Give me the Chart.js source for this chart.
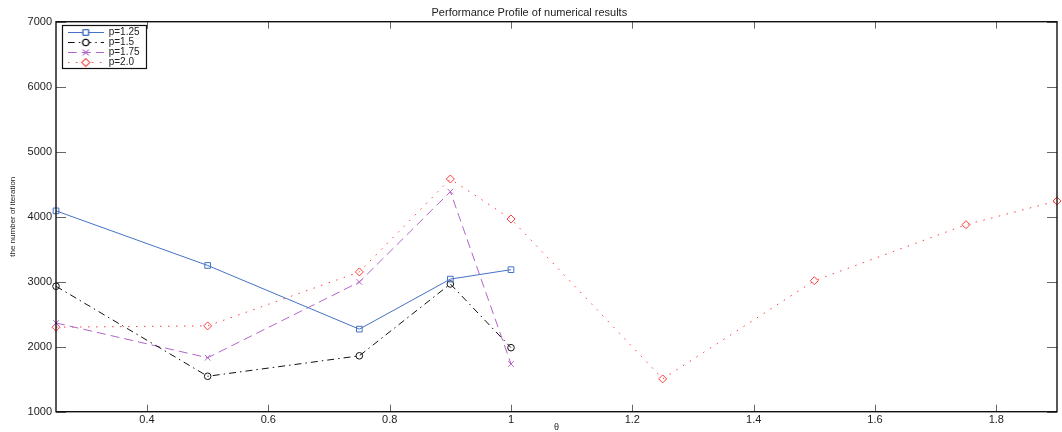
<!DOCTYPE html>
<html>
<head>
<meta charset="utf-8">
<script src="https://cdn.jsdelivr.net/npm/chart.js@4/dist/chart.umd.min.js"></script>
<style>
  html, body { margin: 0; padding: 0; background: #fff; }
  canvas { display: block; }
</style>
</head>
<body>
<canvas id="perfChart" width="1062" height="432"></canvas>
<script>
// theta values (x) and iteration counts per p
const thetaShort = [0.25, 0.5, 0.75, 0.9, 1];
const thetaLong = [0.25, 0.5, 0.75, 0.9, 1, 1.25, 1.5, 1.75, 1.9];
const iterP125 = [4090, 3250, 2270, 3040, 3185];
const iterP15 = [2930, 1545, 1860, 2965, 1985];
const iterP175 = [2365, 1830, 2995, 4385, 1735];
const iterP20 = [2300, 2320, 3150, 4580, 3965, 1505, 3015, 3877, 4242];
const seriesNames = ["p=1.25", "p=1.5", "p=1.75", "p=2.0"];
const xTicks = [0.4, 0.6, 0.8, 1, 1.2, 1.4, 1.6, 1.8];
const yTicks = [1000, 2000, 3000, 4000, 5000, 6000, 7000];

const FONT = "'Liberation Sans', Arial, Helvetica, sans-serif";
const colors = ["#4472C4", "#111111", "#B265C9", "#FF3B3B"];
const dashes = [[], [7, 4, 1.5, 4], [9, 5], [1.5, 6.5]];
const markers = ["rect", "circle", "crossRot", "rectRot"];
const markerSize = [4, 3.3, 4, 4];

const toPoints = (xs, ys) => ys.map((v, i) => ({x: xs[i], y: v}));

// little line+marker samples for the legend
function legendSample(i) {
  const c = document.createElement("canvas");
  c.width = 36; c.height = 10;
  const g = c.getContext("2d");
  g.strokeStyle = colors[i];
  g.lineWidth = 1;
  g.setLineDash(dashes[i]);
  g.beginPath();
  g.moveTo(0, 5.5);
  g.lineTo(36, 5.5);
  g.stroke();
  g.setLineDash([]);
  g.fillStyle = "#fff";
  Chart.helpers.drawPoint(g, {pointStyle: markers[i], radius: markerSize[i], rotation: 0, borderWidth: 1}, 18, 5.5);
  g.stroke();
  return c;
}
const samples = [0, 1, 2, 3].map(legendSample);

const frame = {
  id: "frame",
  afterLayout(chart) {
    const a = chart.chartArea;
    chart.legend.left = a.left + 11.7;
    chart.legend.top = a.top + 5.3;
  },
  afterDatasetsDraw(chart) {
    const {ctx, chartArea: a, scales: {x, y}} = chart;
    ctx.save();
    ctx.strokeStyle = "#666";
    ctx.lineWidth = 1;
    ctx.beginPath();
    xTicks.forEach(v => {
      const px = Math.round(x.getPixelForValue(v)) + 0.5;
      ctx.moveTo(px, a.bottom); ctx.lineTo(px, a.bottom - 7);
      ctx.moveTo(px, a.top); ctx.lineTo(px, a.top + 7);
    });
    yTicks.forEach(v => {
      const py = Math.round(y.getPixelForValue(v)) + 0.5;
      ctx.moveTo(a.left, py); ctx.lineTo(a.left + 10, py);
      ctx.moveTo(a.right, py); ctx.lineTo(a.right - 10, py);
    });
    ctx.stroke();
    ctx.strokeStyle = "#111";
    ctx.lineWidth = 1.4;
    ctx.strokeRect(a.left, a.top, a.right - a.left, a.bottom - a.top);

    // box around the legend
    const hb = chart.legend.legendHitBoxes;
    if (hb && hb.length) {
      const l = Math.min(...hb.map(b => b.left)) - 6;
      const t = Math.min(...hb.map(b => b.top)) - 2;
      const r = Math.max(...hb.map(b => b.left + b.width)) + 6;
      const btm = Math.max(...hb.map(b => b.top + b.height)) + 1;
      ctx.lineWidth = 1.2;
      ctx.strokeRect(Math.round(l) + 0.5, Math.round(t) + 0.5, Math.round(r - l), Math.round(btm - t));
    }
    ctx.restore();
  }
};

const datasets = [
  toPoints(thetaShort, iterP125),
  toPoints(thetaShort, iterP15),
  toPoints(thetaShort, iterP175),
  toPoints(thetaLong, iterP20)
].map((pts, i) => ({
  label: seriesNames[i],
  data: pts,
  borderColor: colors[i],
  backgroundColor: colors[i],
  borderWidth: 1,
  borderDash: dashes[i],
  pointStyle: markers[i],
  pointRadius: markerSize[i],
  pointBorderWidth: 1,
  pointBorderColor: colors[i],
  pointBackgroundColor: "rgba(255,255,255,0)",
  tension: 0,
  clip: false
}));

new Chart(document.getElementById("perfChart"), {
  type: "line",
  data: {datasets: datasets},
  plugins: [frame],
  options: {
    responsive: false,
    animation: false,
    devicePixelRatio: 1,
    layout: {padding: {left: 0, right: 3.3, top: 0, bottom: 0}},
    plugins: {
      title: {
        display: true,
        text: "Performance Profile of numerical results",
        color: "#222",
        font: {family: FONT, size: 11, weight: "normal", lineHeight: 1.1},
        padding: {top: 7, bottom: 2.6}
      },
      legend: {
        position: "chartArea",
        align: "start",
        labels: {
          usePointStyle: true,
          pointStyleWidth: 36,
          padding: 0,
          color: "#222",
          font: {family: FONT, size: 10},
          generateLabels(chart) {
            const items = Chart.defaults.plugins.legend.labels.generateLabels(chart);
            items.forEach((it, i) => { it.pointStyle = samples[i]; });
            return items;
          }
        }
      },
      tooltip: {enabled: false}
    },
    scales: {
      x: {
        type: "linear",
        min: 0.25,
        max: 1.9,
        afterBuildTicks: s => { s.ticks = xTicks.map(v => ({value: v})); },
        afterFit: s => { s.height = 20.3; },
        grid: {display: false, drawTicks: false},
        border: {display: false},
        ticks: {
          padding: 2,
          color: "#222",
          font: {family: FONT, size: 11},
          callback: v => String(v)
        },
        title: {
          display: true,
          text: "θ",
          color: "#222",
          font: {family: FONT, size: 9, lineHeight: 1},
          padding: {top: 0, bottom: -0.5}
        }
      },
      y: {
        type: "linear",
        min: 1000,
        max: 7000,
        afterBuildTicks: s => { s.ticks = yTicks.map(v => ({value: v})); },
        afterFit: s => { s.width = 56; },
        grid: {display: false, drawTicks: false},
        border: {display: false},
        ticks: {
          padding: 4,
          color: "#222",
          font: {family: FONT, size: 11},
          callback: v => String(v)
        },
        title: {
          display: true,
          text: "the number of iteration",
          color: "#222",
          font: {family: FONT, size: 8, lineHeight: 1},
          padding: {top: 9, bottom: 0}
        }
      }
    }
  }
});
</script>
</body>
</html>
